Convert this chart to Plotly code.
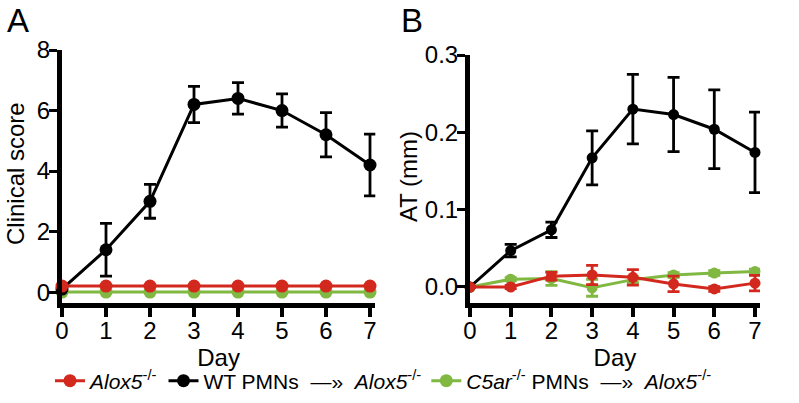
import plotly.graph_objects as go

# days after transfer
days = [0, 1, 2, 3, 4, 5, 6, 7]

# panel A - clinical score
score_c5ar = [0, 0, 0, 0, 0, 0, 0, 0]
score_wt = [0.1, 1.4, 3.0, 6.2, 6.4, 6.0, 5.2, 4.2]
score_wt_err = [0, 0.87, 0.56, 0.6, 0.52, 0.55, 0.73, 1.02]
score_alox = [0.2, 0.2, 0.2, 0.2, 0.2, 0.2, 0.2, 0.2]

# panel B - ankle thickening (mm)
at_c5ar = [0, 0.010, 0.011, -0.001, 0.0095, 0.0155, 0.018, 0.020]
at_c5ar_err = [0, 0.002, 0.009, 0.011, 0.004, 0.003, 0.003, 0.003]
at_wt = [0, 0.047, 0.074, 0.167, 0.230, 0.223, 0.204, 0.174]
at_wt_err = [0, 0.008, 0.01, 0.035, 0.045, 0.048, 0.051, 0.052]
at_alox = [0, 0.0, 0.014, 0.0155, 0.0125, 0.004, -0.0025, 0.005]
at_alox_err = [0, 0.002, 0.005, 0.0125, 0.01, 0.01, 0.003, 0.01]

yticks_a = [0, 2, 4, 6, 8]
yticks_b = [0.0, 0.1, 0.2, 0.3]
ytext_b = ['0.0', '0.1', '0.2', '0.3']

RED = '#d2281e'
GREEN = '#80b842'
BLACK = '#000000'

names = {
    'alox': '<i>Alox5</i><sup>-/-</sup>',
    'wt': 'WT PMNs  \u2014\u00bb  <i>Alox5</i><sup>-/-</sup>',
    'c5ar': '<i>C5ar</i><sup>-/-</sup> PMNs  \u2014\u00bb  <i>Alox5</i><sup>-/-</sup>',
}

fig = go.Figure()


def addSeries(x, y, err, color, key, xa, ya, msize, legend):
    fig.add_trace(go.Scatter(
        x=x, y=y, mode='lines+markers', name=names[key],
        line=dict(color=color, width=3),
        marker=dict(color=color, size=msize),
        error_y=dict(type='data', array=err, visible=err is not None,
                     color=color, thickness=2.8, width=6),
        xaxis=xa, yaxis=ya, showlegend=legend, cliponaxis=False,
        legendgroup=key,
    ))


# drawing order green, black, red (red on top)
addSeries(days, score_c5ar, None, GREEN, 'c5ar', 'x', 'y', 13, True)
addSeries(days, score_wt, score_wt_err, BLACK, 'wt', 'x', 'y', 13, True)
addSeries(days, score_alox, None, RED, 'alox', 'x', 'y', 13, True)

addSeries(days, at_c5ar, at_c5ar_err, GREEN, 'c5ar', 'x2', 'y2', 11, False)
addSeries(days, at_wt, at_wt_err, BLACK, 'wt', 'x2', 'y2', 11, False)
addSeries(days, at_alox, at_alox_err, RED, 'alox', 'x2', 'y2', 11, False)

W, H = 799, 403


def px_x(p):
    return p / W


def px_y(p):
    return (H - p) / H


XMAX = 7.12
xcommon = dict(range=[0, XMAX], tickvals=days, showline=True, linewidth=5,
               linecolor='black', ticks='outside', ticklen=9, tickwidth=4,
               tickcolor='black', showgrid=False, zeroline=False,
               automargin=False, ticklabelstandoff=-7,
               tickfont=dict(size=24, color='black'),
               title=dict(text='Day', font=dict(size=24, color='black'), standoff=0))
ycommon = dict(showline=True, linewidth=5, linecolor='black', ticks='outside',
               ticklen=8, tickwidth=3, tickcolor='black', showgrid=False,
               zeroline=False, automargin=False, ticklabelstandoff=-6,
               tickfont=dict(size=24, color='black'))


def label(text, x, y, size, angle=0, anchor='left', yanchor='top'):
    return dict(text=text, x=px_x(x), y=px_y(y), xref='paper', yref='paper',
                xanchor=anchor, yanchor=yanchor, showarrow=False, textangle=angle,
                font=dict(size=size, color='black'))


fig.update_layout(
    width=W, height=H,
    margin=dict(l=0, r=0, t=0, b=0),
    paper_bgcolor='white', plot_bgcolor='white',
    font=dict(family='Liberation Sans, Arial, sans-serif', color='black'),
    xaxis=dict(domain=[px_x(62), px_x(62 + 308 * XMAX / 7)], anchor='y', **xcommon),
    yaxis=dict(domain=[px_y(303), px_y(50)], range=[-0.36, 8], anchor='x',
               tickvals=yticks_a, **ycommon),
    xaxis2=dict(domain=[px_x(470), px_x(470 + 285 * XMAX / 7)], anchor='y2', **xcommon),
    yaxis2=dict(domain=[px_y(303), px_y(55)], range=[-0.0207, 0.3], anchor='x2',
                tickvals=yticks_b, ticktext=ytext_b, **ycommon),
    legend=dict(orientation='h', x=px_x(50), y=px_y(381), xanchor='left',
                yanchor='middle', traceorder='reversed',
                font=dict(size=21, color='black'), itemwidth=30,
                bgcolor='rgba(0,0,0,0)'),
    annotations=[
        label('A', 5, 0, 33),
        label('B', 399, 0, 33),
        label('Clinical score', 15, 174, 24, angle=-90, anchor='center', yanchor='middle'),
        label('AT (mm)', 408, 176, 24, angle=-90, anchor='center', yanchor='middle'),
    ],
)

# drop the default page margin so the figure sits at the window corner
fig.write_html("out.html", config={'displayModeBar': False},
               post_script="document.body.style.margin='0';")
